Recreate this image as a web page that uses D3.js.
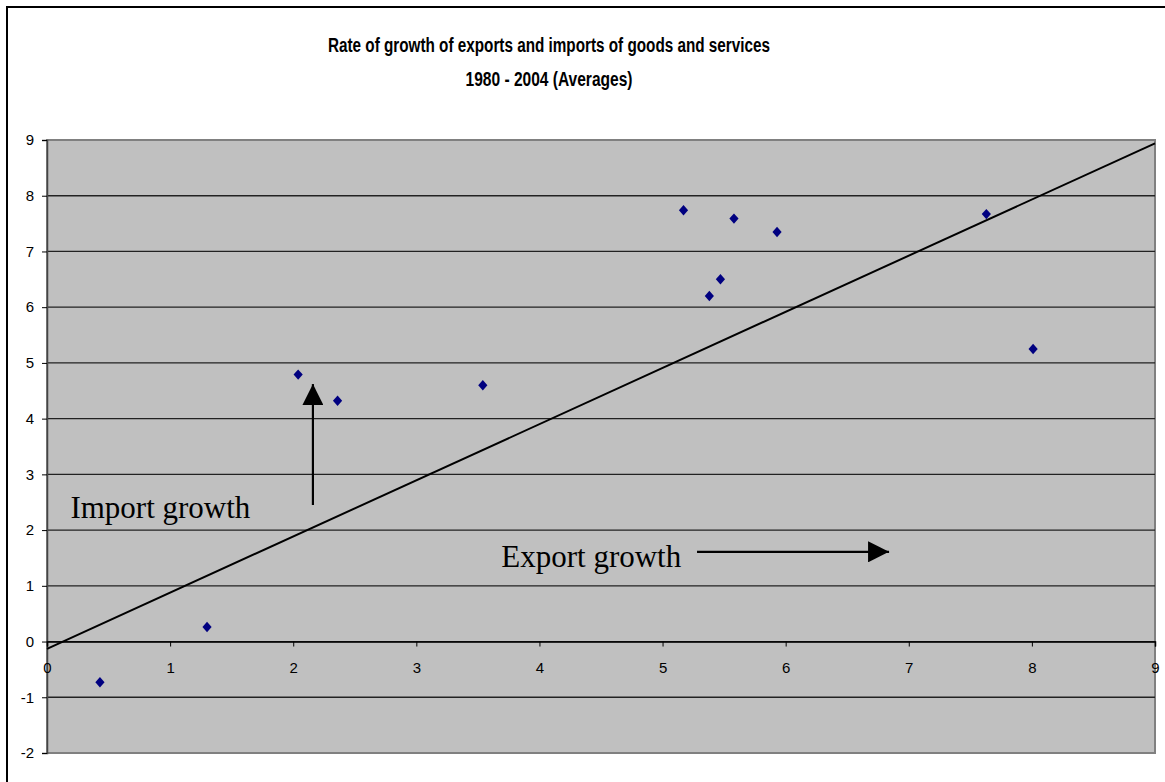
<!DOCTYPE html>
<html>
<head>
<meta charset="utf-8">
<script src="https://d3js.org/d3.v7.min.js"></script>
<style>
  body { margin: 0; background: #fff; }
  .title { font-family: "Liberation Sans", Arial, sans-serif; font-weight: bold; font-size: 20px; }
  .note { font-family: "Liberation Serif", "Times New Roman", serif; font-size: 31px; fill: #000; }
</style>
</head>
<body>
<div id="chart"></div>
<script>
// export growth (x) vs import growth (y), 1980-2004 averages
var exportGrowth = [0.43, 1.30, 2.04, 2.36, 3.54, 5.17, 5.58, 5.93, 5.47, 5.38, 7.63, 8.01];
var importGrowth = [-0.73, 0.26, 4.79, 4.32, 4.60, 7.74, 7.59, 7.35, 6.50, 6.20, 7.67, 5.25];
var lineX = [0, 9];
var lineY = [-0.13, 8.94];
var xTicks = [0, 1, 2, 3, 4, 5, 6, 7, 8, 9];
var yTicks = [-2, -1, 0, 1, 2, 3, 4, 5, 6, 7, 8, 9];
var titleLines = ["Rate of growth of exports and imports of goods and services", "1980 - 2004 (Averages)"];

var W = 1165, H = 782;
var plot = { left: 47, right: 1155, top: 140, bottom: 753 };

var svg = d3.select("#chart").append("svg")
    .attr("width", W).attr("height", H);

// chart border
svg.append("rect")
    .attr("x", 7).attr("y", 7).attr("width", W + 20).attr("height", H + 20)
    .attr("fill", "#fff").attr("stroke", "#000").attr("stroke-width", 2);

// title
svg.append("text").attr("class", "title")
    .attr("x", 549).attr("y", 52).attr("text-anchor", "middle")
    .attr("textLength", 442).attr("lengthAdjust", "spacingAndGlyphs")
    .text(titleLines[0]);
svg.append("text").attr("class", "title")
    .attr("x", 549).attr("y", 86).attr("text-anchor", "middle")
    .attr("textLength", 167).attr("lengthAdjust", "spacingAndGlyphs")
    .text(titleLines[1]);

var x = d3.scaleLinear().domain([0, 9]).range([plot.left, plot.right]);
var y = d3.scaleLinear().domain([-2, 9]).range([plot.bottom, plot.top]);

// plot area
svg.append("rect")
    .attr("x", plot.left).attr("y", plot.top)
    .attr("width", plot.right - plot.left).attr("height", plot.bottom - plot.top)
    .attr("fill", "#c0c0c0").attr("stroke", "#808080").attr("stroke-width", 2);

// gridlines
svg.append("g").selectAll("line")
    .data(yTicks.filter(function (d) { return d > -2 && d < 9; }))
    .enter().append("line")
    .attr("x1", plot.left).attr("x2", plot.right)
    .attr("y1", function (d) { return y(d); }).attr("y2", function (d) { return y(d); })
    .attr("stroke", "#222").attr("stroke-width", 1.3);

function fmt(d) { return String(d); }

// y axis
var yAxisG = svg.append("g")
    .attr("transform", "translate(" + plot.left + ",0)")
    .call(d3.axisLeft(y).tickValues(yTicks).tickSize(5).tickPadding(8).tickFormat(fmt));
yAxisG.select(".domain").attr("stroke", "#444").attr("stroke-width", 1.5);
yAxisG.selectAll(".tick line").attr("stroke", "#000");

// x axis at y = 0
var xAxisG = svg.append("g")
    .attr("transform", "translate(0," + y(0) + ")")
    .call(d3.axisBottom(x).tickValues(xTicks).tickSize(5).tickPadding(16).tickFormat(fmt));
xAxisG.select(".domain").attr("stroke", "#000").attr("stroke-width", 1.5);
xAxisG.selectAll(".tick line").attr("stroke", "#000");

svg.selectAll(".tick text")
    .style("font-family", "'Liberation Sans', Arial, sans-serif")
    .style("font-size", "15px")
    .style("fill", "#000");

// 45-degree style line
svg.append("line")
    .attr("x1", x(lineX[0])).attr("y1", y(lineY[0]))
    .attr("x2", x(lineX[1])).attr("y2", y(lineY[1]))
    .attr("stroke", "#000").attr("stroke-width", 2);

// diamonds
function diamond(cx, cy) {
    var w = 4.6, h = 5.2;
    return "M" + cx + "," + (cy - h) + "L" + (cx + w) + "," + cy + "L" + cx + "," + (cy + h) + "L" + (cx - w) + "," + cy + "Z";
}
svg.append("g").selectAll("path")
    .data(exportGrowth)
    .enter().append("path")
    .attr("d", function (d, i) { return diamond(x(d), y(importGrowth[i])); })
    .attr("fill", "#000080");

// annotations
var defs = svg.append("defs");
defs.append("marker").attr("id", "head")
    .attr("viewBox", "0 0 10 10").attr("refX", 10).attr("refY", 5)
    .attr("markerUnits", "userSpaceOnUse")
    .attr("markerWidth", 21).attr("markerHeight", 21).attr("orient", "auto")
    .append("path").attr("d", "M0,0L10,5L0,10Z").attr("fill", "#000");

svg.append("line")
    .attr("x1", x(2.16)).attr("y1", y(2.45))
    .attr("x2", x(2.16)).attr("y2", y(4.62))
    .attr("stroke", "#000").attr("stroke-width", 2.2)
    .attr("marker-end", "url(#head)");
svg.append("line")
    .attr("x1", x(5.28)).attr("y1", y(1.61))
    .attr("x2", x(6.84)).attr("y2", y(1.61))
    .attr("stroke", "#000").attr("stroke-width", 2.2)
    .attr("marker-end", "url(#head)");

svg.append("text").attr("class", "note")
    .attr("x", x(0.19)).attr("y", y(2.22)).text("Import growth");
svg.append("text").attr("class", "note")
    .attr("x", x(3.69)).attr("y", y(1.34)).text("Export growth");
</script>
</body>
</html>
